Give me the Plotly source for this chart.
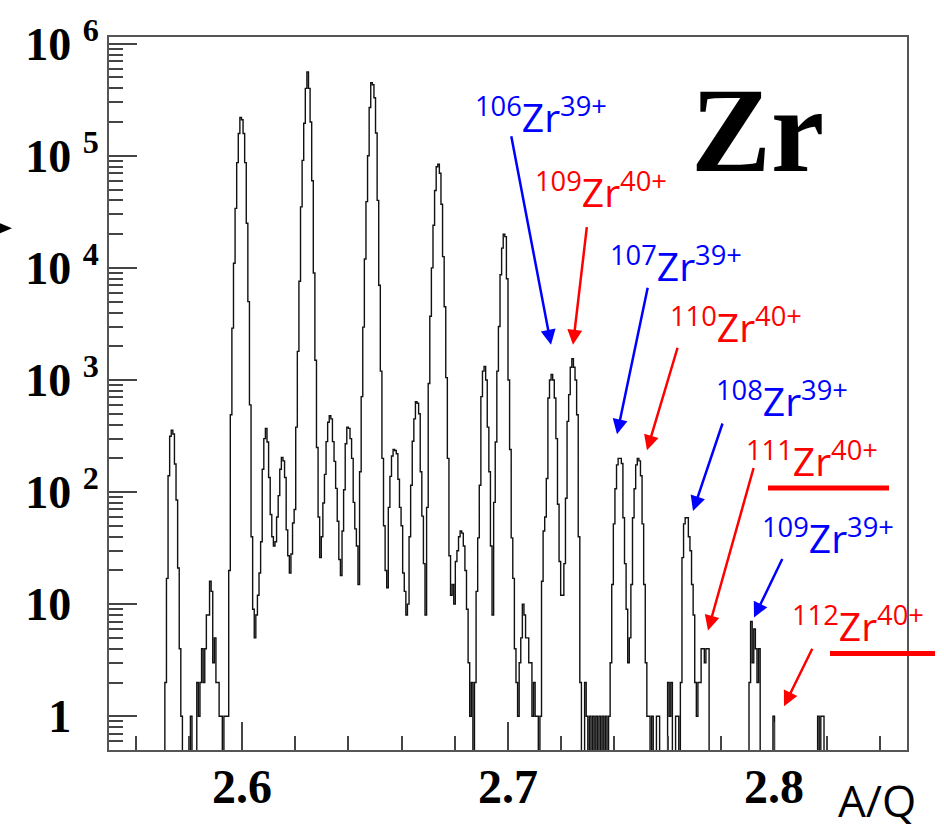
import plotly.graph_objects as go

# ---------------- data ----------------
aq_min = 2.55
aq_max = 2.85
# counts per bin (500 bins of 0.0006 in A/Q)
counts = [
    0, 0, 0, 0, 0, 0, 0, 0, 0, 0,                                   # 0
    0, 0, 0, 0, 0, 0, 0, 0, 0, 0,                                   # 10
    0, 0, 0, 0, 0, 0, 0, 0, 0, 0,                                   # 20
    0, 0, 0, 0, 0, 2, 17, 140, 315, 356,                            # 30
    330, 178, 85, 21, 4, 1, 0, 0, 0, 0,                             # 40
    0, 1, 0, 0, 0, 2, 1, 2, 4, 2,                                   # 50
    4, 8, 8, 16, 13, 3, 5, 2, 2, 1,                                 # 60
    1, 0, 1, 1, 1, 20, 490, 2900, 11000, 34000,                     # 70
    87000, 158000, 220000, 210000, 158000, 87000, 25000, 5000, 600, 40,  # 80
    9, 5, 8, 12, 19, 36, 160, 300, 370, 280,                        # 90
    135, 63, 40, 33, 36, 60, 93, 160, 204, 190,                     # 100
    135, 46, 27, 19, 28, 53, 70, 380, 1800, 7600,                   # 110
    35000, 91000, 195000, 400000, 560000, 400000, 200000, 60000, 9000, 1500,  # 120
    250, 60, 26, 40, 80, 144, 282, 420, 480, 450,                   # 130
    282, 188, 108, 55, 25, 18, 45, 105, 270, 380,                   # 140
    370, 300, 200, 81, 47, 33, 15, 152, 710, 2960,                  # 150
    12000, 39000, 100000, 270000, 450000, 430000, 330000, 160000, 40000, 7000,  # 160
    1200, 200, 50, 20, 14, 73, 138, 210, 240, 235,                  # 170
    220, 130, 73, 50, 19, 13, 8, 10, 40, 115,                       # 180
    284, 450, 640, 620, 500, 152, 61, 23, 8, 73,                    # 190
    930, 3700, 10000, 24000, 49000, 80000, 84000, 70000, 37000, 12600,  # 200
    4500, 1050, 200, 27, 12, 15, 10, 24, 30, 40,                    # 210
    45, 43, 33, 20, 9, 3, 1, 2, 0, 2,                               # 220
    13, 39, 115, 710, 1200, 1320, 1000, 380, 152, 33,               # 230
    8, 81, 280, 1200, 3000, 8700, 15000, 20000, 19000, 8000,        # 240
    1000, 240, 39, 17, 4, 2, 1, 3, 5, 10,                           # 250
    8, 5, 5, 3, 3, 1, 2, 1, 1, 0,                                   # 260
    1, 16, 45, 60, 132, 690, 1000, 1120, 1000, 690,                 # 270
    300, 78, 24, 12, 12, 23, 88, 427, 740, 1300,                    # 280
    1550, 1300, 1000, 490, 40, 2, 0, 0, 2, 1,                       # 290
    0, 1, 0, 1, 0, 1, 0, 1, 0, 1,                                   # 300
    0, 1, 0, 1, 3, 15, 52, 107, 175, 200,                           # 310
    200, 180, 59, 23, 9, 3, 5, 15, 59, 107,                         # 320
    175, 200, 190, 140, 52, 15, 3, 1, 1, 0,                         # 330
    1, 0, 0, 1, 1, 0, 0, 0, 0, 0,                                   # 340
    2, 1, 2, 0, 0, 1, 1, 0, 2, 26,                                  # 350
    52, 59, 59, 40, 30, 15, 8, 2, 1, 2,                             # 360
    2, 4, 4, 3, 4, 4, 0, 0, 0, 0,                                   # 370
    0, 0, 0, 0, 0, 0, 0, 0, 0, 0,                                   # 380
    0, 0, 0, 0, 0, 0, 0, 0, 0, 0,                                   # 390
    0, 2, 7, 3, 6, 4, 2, 4, 0, 0,                                   # 400
    0, 0, 0, 0, 0, 0, 1, 0, 0, 0,                                   # 410
    0, 0, 0, 0, 0, 0, 0, 0, 0, 0,                                   # 420
    0, 0, 0, 0, 0, 0, 0, 0, 0, 0,                                   # 430
    0, 0, 0, 0, 1, 0, 1, 1, 0, 0,                                   # 440
    0, 0, 0, 0, 0, 0, 0, 0, 0, 0,                                   # 450
    0, 0, 0, 0, 0, 0, 0, 0, 0, 0,                                   # 460
    0, 0, 0, 0, 0, 0, 0, 0, 0, 0,                                   # 470
    0, 0, 0, 0, 0, 0, 0, 0, 0, 0,                                   # 480
    0, 0, 0, 0, 0, 0, 0, 0, 0, 0,                                   # 490
]

x_tick0 = 2.6
x_dtick = 0.1
y_tick_vals = [1, 10, 100, 1000, 10000, 100000, 1000000]
y_tick_exp = ["", "", "2", "3", "4", "5", "6"]
y_tick_base = ["1", "10", "10", "10", "10", "10", "10"]

ion_mass = ["106", "109", "107", "110", "108", "111", "109", "112"]
ion_charge = ["39+", "40+", "39+", "40+", "39+", "40+", "39+", "40+"]
ion_color = ["#0000ff", "#ff0000", "#0000ff", "#ff0000", "#0000ff", "#ff0000", "#0000ff", "#ff0000"]

# ---------------- geometry helpers ----------------
W, H = 944, 833
PL, PR, PT, PB = 109, 907, 34, 750


def fx(p):
    return (p - PL) / (PR - PL)


def fy(p):
    return (PB - p) / (PB - PT)


nb = len(counts)
bw = (aq_max - aq_min) / nb
edges = [aq_min + i * bw for i in range(nb + 1)]
floor = 1e-3
yplot = [c if c > 0 else floor for c in counts]
yplot = yplot + [yplot[-1]]

fig = go.Figure()
fig.add_trace(go.Scatter(
    x=edges, y=yplot, mode="lines",
    line=dict(color="#111111", width=1.4, shape="hv"),
    hoverinfo="skip", showlegend=False,
))

# tick text
inv = "<span style='color:rgba(0,0,0,0)'>0</span>"
y_tick_text = []
for b, e in zip(y_tick_base, y_tick_exp):
    if e:
        y_tick_text.append(f"{b}&nbsp;<sup>{e}</sup>")
    else:
        y_tick_text.append(f"{b}&nbsp;<sup>{inv}</sup>")

fig.update_layout(
    width=W, height=H,
    margin=dict(l=PL, r=W - PR, t=PT, b=H - PB, pad=0),
    paper_bgcolor="white", plot_bgcolor="white",
    showlegend=False,
)
fig.update_xaxes(
    range=[aq_min, aq_max], tickmode="linear", tick0=x_tick0, dtick=x_dtick,
    tickformat=".1f",
    ticks="inside", ticklen=28, tickwidth=1.5, tickcolor="#444",
    showline=True, mirror=True, linecolor="#555", linewidth=2,
    showgrid=False, zeroline=False,
    tickfont=dict(family="Liberation Serif", size=48, color="black", weight="bold"),
    ticklabelstandoff=-7,
    minor=dict(ticks="inside", ticklen=14, tickwidth=1.5, tickcolor="#444",
               dtick=0.02, tick0=x_tick0, showgrid=False),
)
fig.update_yaxes(
    type="log", range=[-0.301, 6.06],
    tickmode="array", tickvals=y_tick_vals, ticktext=y_tick_text,
    ticks="inside", ticklen=28, tickwidth=1.5, tickcolor="#444",
    showline=True, mirror=True, linecolor="#555", linewidth=2,
    showgrid=False, zeroline=False,
    tickfont=dict(family="Liberation Serif", size=46, color="black", weight="bold"),
    ticklabelstandoff=-1,
    minor=dict(ticks="inside", ticklen=14, tickwidth=1.5, tickcolor="#444",
               dtick="D1", showgrid=False),
)

# ion labels (left x, vertical middle) and arrows (tail -> tip) in pixels
label_pos = [(473, 112), (533, 188), (608, 262), (668, 323),
             (714, 398), (744, 458), (760, 535), (790, 623)]
arrow_tail = [(511, 133), (587, 224), (648, 285), (678, 345),
              (723, 421), (754, 466), (783, 557), (813, 647)]
arrow_tip = [(551, 343), (573, 343), (617, 433), (647, 449),
             (693, 510), (708, 630), (754, 617), (784, 706)]

for m, q, c, (lx, ly), (tx, ty), (hx, hy) in zip(
        ion_mass, ion_charge, ion_color, label_pos, arrow_tail, arrow_tip):
    fig.add_annotation(
        x=fx(lx), y=fy(ly), xref="paper", yref="paper",
        xanchor="left", yanchor="middle", showarrow=False,
        text=f"<sup>{m}</sup>Zr<sup>{q}</sup>",
        font=dict(family="Open Sans", size=39, color=c),
    )
    fig.add_annotation(
        x=fx(hx), y=fy(hy), xref="paper", yref="paper",
        ax=tx - hx, ay=ty - hy, axref="pixel", ayref="pixel",
        text="", showarrow=True, arrowhead=2, arrowsize=1.2,
        arrowwidth=2.5, arrowcolor=c,
    )

# underlines
for (x0, x1, yy) in [(768, 889, 487), (830, 935, 653)]:
    fig.add_shape(type="line", xref="paper", yref="paper",
                  x0=fx(x0), x1=fx(x1), y0=fy(yy), y1=fy(yy),
                  line=dict(color="#ff0000", width=5))

# big element label
fig.add_annotation(
    x=fx(757), y=fy(128), xref="paper", yref="paper",
    xanchor="center", yanchor="middle", showarrow=False,
    text="Zr", font=dict(family="Liberation Serif", size=120, color="black", weight="bold"),
)

# axis name
fig.add_annotation(
    x=fx(877), y=fy(832), xref="paper", yref="paper",
    xanchor="center", yanchor="bottom", showarrow=False,
    text="A/Q", font=dict(family="Open Sans", size=44, color="black"),
)

# small arrowhead at the left edge
fig.add_shape(type="path", xref="paper", yref="paper",
              path=f"M {fx(0)},{fy(221)} L {fx(12)},{fy(226)} L {fx(0)},{fy(231)} Z",
              fillcolor="black", line=dict(color="black", width=0))

fig.write_html("out.html")
